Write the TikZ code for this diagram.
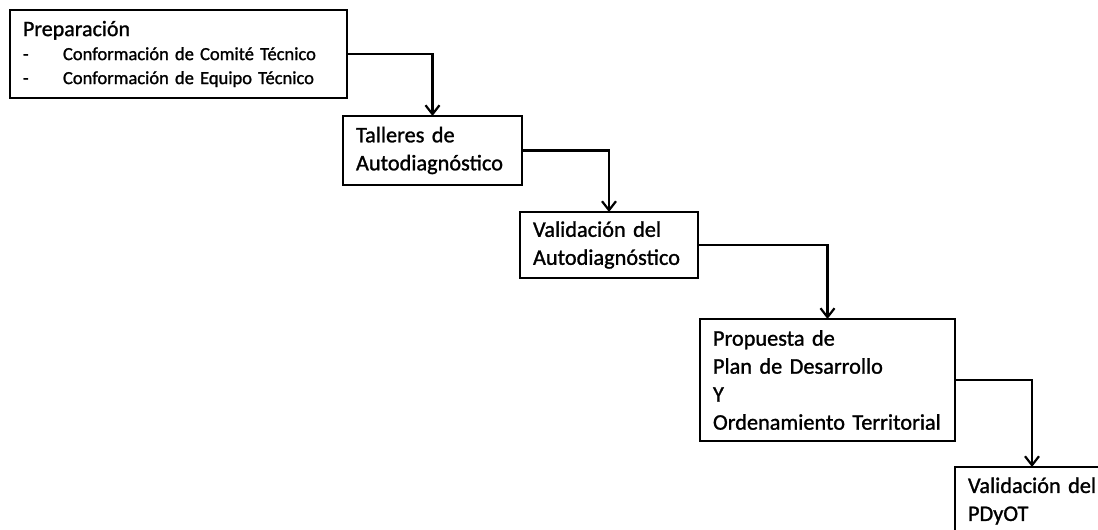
\documentclass[tikz,border=0pt]{standalone}
\usepackage{fontspec}
\setmainfont{Carlito}[FakeBold=1.2]
\usetikzlibrary{positioning,arrows.meta}

\begin{document}
\begin{tikzpicture}[
  x=1pt, y=-1pt,
  box/.style={draw,line width=2.8pt,outer sep=0pt,inner xsep=13pt,inner ysep=0pt,
    align=left,font=\fontsize{22.3}{28}\selectfont},
  flow/.style={line width=2.2pt,-{Straight Barb[length=9pt,width=14pt,line width=2.2pt]}}
    ]
\useasboundingbox (0,0) rectangle (1098,530);
\clip (0,0) rectangle (1098,530);

\node[box,anchor=north west,text width=311pt,minimum height=88pt,
  font=\fontsize{18.5}{24}\selectfont] (prep) at (10,10)
  {{\fontsize{22}{24}\selectfont Preparación}\\
   \makebox[40pt][l]{-}Conformación de Comité Técnico\\
   \makebox[40pt][l]{-}Conformación de Equipo Técnico};
\node[box,text width=153pt,minimum height=69pt,below right=18pt and -4pt of prep] (tall)
  {Talleres de\\Autodiagnóstico};
\node[box,text width=152pt,minimum height=66pt,below right=27pt and -2pt of tall] (vauto)
  {Validación del\\Autodiagnóstico};
\node[box,text width=229pt,minimum height=122pt,below right=41pt and 2pt of vauto] (prop)
  {Propuesta de\\Plan de Desarrollo\\Y\\Ordenamiento Territorial};
\node[box,text width=128pt,minimum height=68pt,below right=26pt and 0pt of prop] (vpdot)
  {Validación~del\\PDyOT};

\draw[flow] (prep.east) -| (tall.north);
\draw[flow] (tall.east) -| (vauto.north);
\draw[flow] (vauto.east) -| (prop.north);
\draw[flow] (prop.east) -| (vpdot.north);
\end{tikzpicture}
\end{document}
